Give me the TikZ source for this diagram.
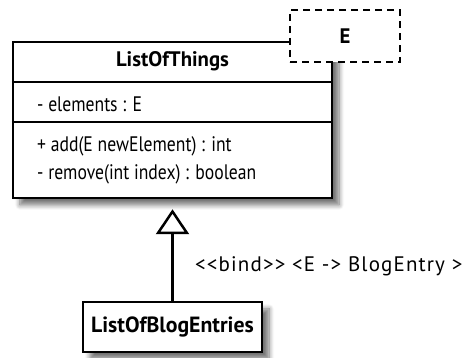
\documentclass[tikz,border=0pt]{standalone}
\usepackage{fontspec}
\setmainfont{PT Sans}[FakeStretch=0.84]
\newfontfamily\namefont{PT Sans}[FakeStretch=0.99]
\newfontfamily\bindfont{PT Sans}[LetterSpace=5.5]
\usetikzlibrary{positioning,shadows.blur,arrows.meta}

\begin{document}
\begin{tikzpicture}[x=1pt, y=1pt, every node/.style={font=\fontsize{21}{25}\selectfont}]
		% Define colors
		\definecolor{shadowgray}{RGB}{90, 90, 90}

		% Styles
		\tikzstyle{soft_shadow} = [blur shadow={shadow xshift=7pt, shadow yshift=-7pt, shadow blur steps=8, shadow blur radius=5pt, shadow opacity=55}]
		\tikzstyle{class_frame} = [draw=black, line width=2.5pt, fill=white, minimum width=319pt, minimum height=156pt, soft_shadow]
		\tikzstyle{class_name} = [font=\fontsize{21}{25}\namefont\bfseries, minimum width=319pt, minimum height=40pt, inner sep=0pt]
		\tikzstyle{class_part} = [anchor=base west, inner sep=0pt]
		\tikzstyle{param_box} = [draw=black, line width=2.5pt, dash pattern=on 7pt off 5pt, fill=white, font=\fontsize{21}{25}\namefont\bfseries, minimum width=110pt, minimum height=52pt]
		\tikzstyle{small_class} = [draw=black, line width=2.5pt, fill=white, font=\fontsize{22}{26}\namefont\bfseries, minimum width=179pt, minimum height=50pt, soft_shadow]
		\tikzstyle{bind_line} = [line width=2.5pt, -{Triangle[open, length=25pt, width=33pt, line width=2.5pt]}]

		\useasboundingbox (0,0) rectangle (467,358);

		% Generic class with its compartments
		\node[class_frame] (things) at (172.5, 238) {};
		\node[class_name, below=0pt of things.north] (thingsname) {ListOfThings};
		\draw[line width=2.5pt] (things.west |- 0,276) -- (things.east |- 0,276);
		\draw[line width=2.5pt] (things.west |- 0,236) -- (things.east |- 0,236);
		\node[class_part] (thingsattr) at (37, 246) {- elements : E};
		\node[class_part] (thingsadd) at (37, 206) {+ add(E newElement) : int};
		\node[class_part] (thingsremove) at (37, 178) {- remove(int index) : boolean};

		% Template parameter
		\node[param_box] (param) at (345, 322) {E};

		% Bound class
		\node[small_class] (blog) at (172.5, 31) {ListOfBlogEntries};

		% Binding
		\draw[bind_line, shorten >=10pt] (blog.north) -- (things.south);
		\node[anchor=base west, inner sep=0pt, font=\fontsize{21}{25}\bindfont] (bindlabel) at (195, 86) {<{}<bind>{}> <E -> BlogEntry >};

	\end{tikzpicture}
\end{document}
